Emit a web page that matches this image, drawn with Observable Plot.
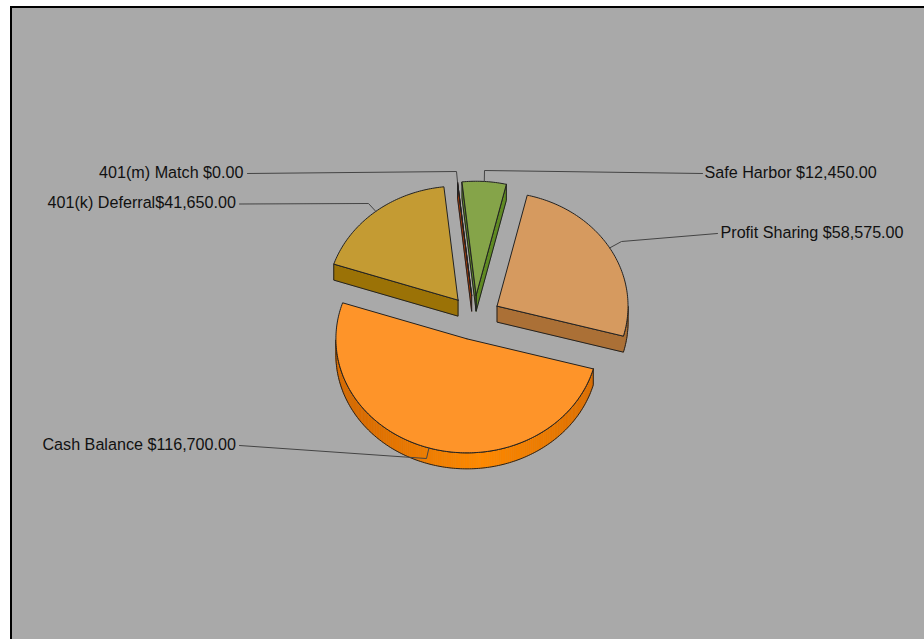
<!DOCTYPE html>
<html><head><meta charset="utf-8">
<style>html,body{margin:0;padding:0;background:#fff;overflow:hidden}</style>
<script src="https://cdn.jsdelivr.net/npm/d3@7"></script>
<script src="https://cdn.jsdelivr.net/npm/@observablehq/plot@0.6"></script>
</head><body><div id="chart"></div>
<script>
// Data, clockwise from the first slice
const categories = ["401(m) Match", "Safe Harbor", "Profit Sharing", "Cash Balance", "401(k) Deferral"];
const amounts = [0, 12450, 58575, 116700, 41650];
const labels = ["401(m) Match $0.00", "Safe Harbor $12,450.00", "Profit Sharing $58,575.00", "Cash Balance $116,700.00", "401(k) Deferral$41,650.00"];
const topColors = ["#b8401c", "#85a449", "#d69a5f", "#fe9429", "#c49b33"];
const wallColors = ["#a83a08", "#5f8a22", "#ab7036", "#d96c00", "#9b7206"];
const wallHighlight = [null, null, null, "#ff8a00", null];

// Layout of the pie and of the label leaders (in pixels of the picture)
const pie = {cx: 474, cy: 317, rx: 131, ry: 114, ex: 26.2, ey: 22.3, depth: 16, start: -6.2};
const leaderElbows = [[456, 171], [484, 170], [621, 241], [426, 458], [368, 203]];
const leaderEnds = [[247, 173], [702, 173], [717, 233], [239, 445], [239, 203.5]];
const labelAnchors = [[243, 172.5, "end"], [704, 172.5, "start"], [720, 232.5, "start"], [235.5, 444, "end"], [235.5, 202.5, "end"]];

const rad = (d) => d * Math.PI / 180;
const total = d3.sum(amounts);
let acc = pie.start;
const slices = categories.map((name, i) => {
  const a0 = acc, a1 = acc + amounts[i] / total * 360; acc = a1;
  const m = (a0 + a1) / 2;
  const ax = pie.cx + pie.ex * Math.sin(rad(m)), ay = pie.cy - pie.ey * Math.cos(rad(m));
  const rim = (t) => [ax + pie.rx * Math.sin(rad(t)), ay - pie.ry * Math.cos(rad(t))];
  const pts = [[ax, ay]];
  const n = Math.max(1, Math.ceil(a1 - a0));
  for (let k = 0; k <= n; k++) pts.push(rim(a0 + (a1 - a0) * k / n));
  pts.push([ax, ay]);
  return {name, i, m, pts, anchor: rim(m)};
});

const tops = [], fills = [], outlines = [], leaders = [];
const shifted = (p) => [p[0], p[1] + pie.depth];
slices.forEach((s) => {
  s.pts.forEach((p) => tops.push({x: p[0], y: p[1], id: s.name, fill: topColors[s.i]}));
  // visible side walls: edges running leftwards on a clockwise outline face the viewer
  let run = null, runId = 0;
  const flush = () => {
    if (run) {
      const ring = run.concat(run.slice().reverse().map(shifted), [run[0]]);
      const id = s.name + (runId++);
      ring.forEach((p) => outlines.push({x: p[0], y: p[1], id}));
    }
    run = null;
  };
  for (let k = 0; k < s.pts.length - 1; k++) {
    const a = s.pts[k], b = s.pts[k + 1];
    if (b[0] < a[0] - 1e-9) {
      run = run || [a];
      run.push(b);
      let c = wallColors[s.i];
      if (wallHighlight[s.i]) {
        const u = Math.min(1, Math.abs((a[0] + b[0]) / 2 - 480) / 125);
        c = d3.interpolateRgb(wallHighlight[s.i], wallColors[s.i])(u);
      }
      const id = s.name + "-q" + k;
      [a, b, shifted(b), shifted(a), a].forEach((p) => fills.push({x: p[0], y: p[1], id, fill: c}));
    } else flush();
  }
  flush();
  [s.anchor, leaderElbows[s.i], leaderEnds[s.i]].forEach((p) => leaders.push({x: p[0], y: p[1], id: s.name}));
});

const labelRows = labels.map((text, i) => ({text, x: labelAnchors[i][0], y: labelAnchors[i][1], anchor: labelAnchors[i][2]}));
const textMark = (anchor) => Plot.text(labelRows.filter((d) => d.anchor === anchor), {
  x: "x", y: "y", text: "text", textAnchor: anchor, lineAnchor: "middle",
  fontFamily: "Liberation Sans", fontSize: 16.15, fill: "#111"
});

const chart = Plot.plot({
  width: 924, height: 639, margin: 0,
  x: {domain: [0, 924], range: [0, 924], axis: null},
  y: {domain: [0, 639], range: [0, 639], axis: null},
  color: {type: "identity"},
  marks: [
    Plot.rect([{x1: 11, x2: 940, y1: 7, y2: 660}], {x1: "x1", x2: "x2", y1: "y1", y2: "y2", fill: "#a9a9a9", stroke: "#000", strokeWidth: 2}),
    Plot.line(fills, {x: "x", y: "y", z: "id", fill: "fill", stroke: "fill", strokeWidth: 0.6}),
    Plot.line(outlines, {x: "x", y: "y", z: "id", stroke: "#222", strokeWidth: 1}),
    Plot.line(tops, {x: "x", y: "y", z: "id", fill: "fill", stroke: "#222", strokeWidth: 1}),
    Plot.line(leaders, {x: "x", y: "y", z: "id", stroke: "#444", strokeWidth: 1}),
    textMark("end"), textMark("start")
  ]
});
document.getElementById("chart").appendChild(chart);
</script></body></html>
